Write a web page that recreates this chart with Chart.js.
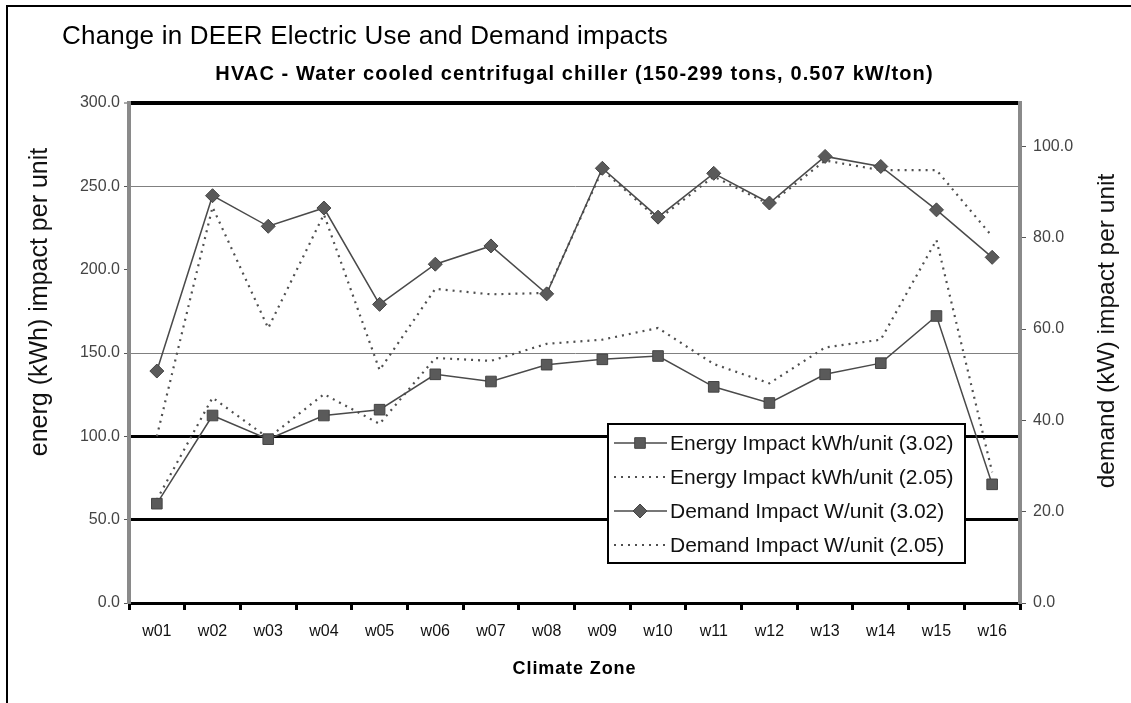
<!DOCTYPE html>
<html>
<head>
<meta charset="utf-8">
<script src="https://cdn.jsdelivr.net/npm/chart.js@4.4.1/dist/chart.umd.min.js"></script>
<style>
  html, body { margin: 0; padding: 0; background: #ffffff; }
  #wrap { width: 1131px; height: 703px; position: relative; }
</style>
</head>
<body>
<div id="wrap"><canvas id="c" width="1131" height="703"></canvas></div>
<script>
const categories = ['w01','w02','w03','w04','w05','w06','w07','w08','w09','w10','w11','w12','w13','w14','w15','w16'];
const energy302 = [59.6, 112.5, 98.3, 112.5, 116.0, 137.2, 132.9, 143.0, 146.2, 148.2, 129.7, 120.0, 137.2, 143.9, 172.2, 71.2];
const energy205 = [62.0, 123.2, 99.0, 125.3, 107.5, 147.0, 145.3, 155.5, 158.0, 165.0, 143.4, 131.8, 153.3, 158.0, 217.8, 78.5];
const demand302 = [50.8, 89.2, 82.5, 86.5, 65.4, 74.2, 78.2, 67.7, 95.2, 84.5, 94.1, 87.6, 97.8, 95.6, 86.1, 75.7];
const demand205 = [36.5, 86.7, 60.2, 85.1, 51.0, 68.8, 67.6, 67.9, 94.9, 84.0, 93.4, 87.3, 96.9, 94.8, 94.8, 80.3];
const leftTicks = [0, 50, 100, 150, 200, 250, 300];
const rightTicks = [0, 20, 40, 60, 80, 100];
const seriesNames = ['Energy Impact kWh/unit (3.02)', 'Energy Impact kWh/unit (2.05)', 'Demand Impact W/unit (3.02)', 'Demand Impact W/unit (2.05)'];
const mainTitle = 'Change in DEER Electric Use and Demand impacts';
const subTitle = 'HVAC - Water cooled centrifugal chiller (150-299 tons, 0.507 kW/ton)';
const xTitle = 'Climate Zone';
const yLeftTitle = 'energ (kWh) impact per unit';
const yRightTitle = 'demand (kW) impact per unit';

const FONT = '"Liberation Sans", Arial, sans-serif';

function setSpacing(ctx, px) {
  if ('letterSpacing' in ctx) ctx.letterSpacing = px + 'px';
}

const framePlugin = {
  id: 'frameAndTitles',
  beforeDraw(chart) {
    const ctx = chart.ctx;
    ctx.save();
    ctx.fillStyle = '#fff';
    ctx.fillRect(0, 0, chart.width, chart.height);
    ctx.strokeStyle = '#000';
    ctx.lineWidth = 2;
    ctx.beginPath();
    ctx.moveTo(7, 703);
    ctx.lineTo(7, 6);
    ctx.lineTo(1131, 6);
    ctx.stroke();
    ctx.restore();
  },
  afterDraw(chart) {
    const ctx = chart.ctx;
    const ca = chart.chartArea;
    ctx.save();
    ctx.fillStyle = '#000';
    ctx.textBaseline = 'middle';
    ctx.textAlign = 'left';
    ctx.font = '26px ' + FONT;
    setSpacing(ctx, 0.2);
    ctx.fillText(mainTitle, 62, 37);
    ctx.textAlign = 'center';
    ctx.font = 'bold 20px ' + FONT;
    setSpacing(ctx, 1.1);
    ctx.fillText(subTitle, (ca.left + ca.right) / 2, 74);
    ctx.font = 'bold 18px ' + FONT;
    setSpacing(ctx, 0.9);
    ctx.fillText(xTitle, (ca.left + ca.right) / 2, 669);
    setSpacing(ctx, 0);
    ctx.fillStyle = '#111';
    ctx.font = '25px ' + FONT;
    ctx.save();
    ctx.translate(40, 302);
    ctx.rotate(-Math.PI / 2);
    ctx.fillText(yLeftTitle, 0, 0);
    ctx.restore();
    ctx.font = '24.5px ' + FONT;
    ctx.save();
    ctx.translate(1107, 331);
    ctx.rotate(-Math.PI / 2);
    ctx.fillText(yRightTitle, 0, 0);
    ctx.restore();
    ctx.restore();
  }
};

const legendPlugin = {
  id: 'boxLegend',
  afterDatasetsDraw(chart) {
    const ctx = chart.ctx;
    const x0 = 608, y0 = 424, w = 357, h = 139;
    ctx.save();
    ctx.fillStyle = '#fff';
    ctx.fillRect(x0, y0, w, h);
    ctx.strokeStyle = '#000';
    ctx.lineWidth = 2;
    ctx.strokeRect(x0, y0, w, h);
    ctx.font = '21px ' + FONT;
    ctx.textBaseline = 'middle';
    ctx.textAlign = 'left';
    chart.data.datasets.forEach((ds, i) => {
      const y = y0 + 19 + i * 34;
      ctx.save();
      ctx.strokeStyle = ds.borderColor;
      ctx.lineWidth = ds.borderWidth;
      ctx.setLineDash(ds.borderDash || []);
      ctx.beginPath();
      ctx.moveTo(614, y);
      ctx.lineTo(667, y);
      ctx.stroke();
      ctx.restore();
      if (ds.pointRadius > 0) {
        ctx.save();
        ctx.fillStyle = ds.pointBackgroundColor;
        ctx.strokeStyle = ds.pointBorderColor;
        ctx.lineWidth = 1;
        Chart.helpers.drawPoint(ctx, {
          pointStyle: ds.pointStyle, radius: ds.pointRadius, borderWidth: 1, rotation: 0
        }, 640, y);
        ctx.restore();
      }
      ctx.fillStyle = '#111';
      ctx.fillText(ds.label, 670, y + 1);
    });
    ctx.restore();
  }
};

function gridColor(ctx) {
  const v = ctx.tick && ctx.tick.value;
  if (v === 300 || v === 100 || v === 50) return '#000';
  if (v === 250 || v === 150) return '#808080';
  return 'rgba(0,0,0,0)';
}
function gridWidth(ctx) {
  const v = ctx.tick && ctx.tick.value;
  if (v === 300) return 4;
  if (v === 100 || v === 50) return 3;
  return 1;
}

const chart = new Chart(document.getElementById('c'), {
  type: 'line',
  data: {
    labels: categories,
    datasets: [
      {
        label: seriesNames[0], data: energy302, yAxisID: 'y',
        borderColor: '#4a4a4a', borderWidth: 1.5, pointStyle: 'rect', pointRadius: 7.5,
        pointBackgroundColor: '#5a5a5a', pointBorderColor: '#444', pointBorderWidth: 1, tension: 0
      },
      {
        label: seriesNames[1], data: energy205, yAxisID: 'y',
        borderColor: '#4f4f4f', borderWidth: 2.2, borderDash: [2, 5], pointRadius: 0, tension: 0
      },
      {
        label: seriesNames[2], data: demand302, yAxisID: 'y1',
        borderColor: '#4a4a4a', borderWidth: 1.5, pointStyle: 'rectRot', pointRadius: 7,
        pointBackgroundColor: '#5a5a5a', pointBorderColor: '#444', pointBorderWidth: 1, tension: 0
      },
      {
        label: seriesNames[3], data: demand205, yAxisID: 'y1',
        borderColor: '#4f4f4f', borderWidth: 2.2, borderDash: [2, 5], pointRadius: 0, tension: 0
      }
    ]
  },
  options: {
    responsive: false,
    animation: false,
    devicePixelRatio: 1,
    layout: { padding: { top: 103, left: 10, right: 10, bottom: 10 } },
    plugins: { legend: { display: false }, title: { display: false }, tooltip: { enabled: false } },
    scales: {
      x: {
        type: 'category', offset: true,
        grid: { display: true, drawOnChartArea: false, offset: true, color: '#000', tickColor: '#000', tickWidth: 3, tickLength: 7, lineWidth: 3 },
        border: { display: true, color: '#000', width: 3 },
        ticks: { color: '#111', font: { family: FONT, size: 16 }, padding: 12, maxRotation: 0, autoSkip: false },
        title: { display: false },
        afterFit(s) { s.height = 90; }
      },
      y: {
        position: 'left', min: 0, max: 300,
        afterBuildTicks(s) { s.ticks = leftTicks.map(v => ({ value: v })); },
        grid: { color: gridColor, lineWidth: gridWidth, tickColor: '#555', tickWidth: 1, tickLength: 5, drawTicks: true },
        border: { display: true, color: '#8a8a8a', width: 4 },
        ticks: { color: '#444', font: { family: FONT, size: 16 }, padding: 4, callback: v => Number(v).toFixed(1) },
        title: { display: false },
        afterFit(s) { s.width = 119; }
      },
      y1: {
        position: 'right', min: 0, max: 109.5,
        afterBuildTicks(s) { s.ticks = rightTicks.map(v => ({ value: v })); },
        grid: { drawOnChartArea: false, tickColor: '#555', tickWidth: 1, tickLength: 6 },
        border: { display: true, color: '#8a8a8a', width: 4 },
        ticks: { color: '#444', font: { family: FONT, size: 16 }, padding: 7, callback: v => Number(v).toFixed(1) },
        title: { display: false },
        afterFit(s) { s.width = 101; }
      }
    }
  },
  plugins: [framePlugin, legendPlugin]
});
</script>
</body>
</html>
